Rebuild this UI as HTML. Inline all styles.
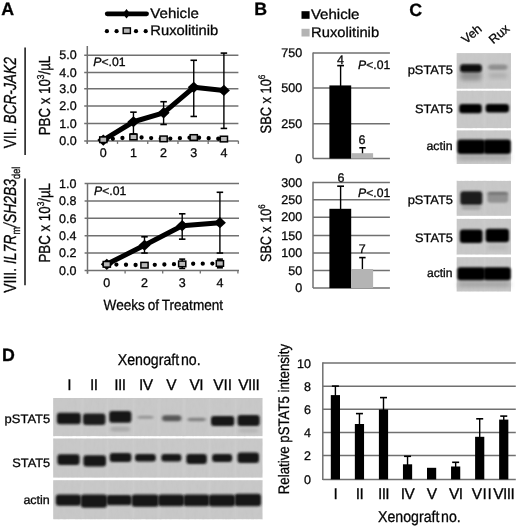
<!DOCTYPE html><html><head><meta charset="utf-8"><style>html,body{margin:0;padding:0;background:#fff;}svg{display:block;filter:blur(0.3px);} text{font-family:"Liberation Sans", sans-serif;text-rendering:geometricPrecision;stroke:#141414;stroke-width:0.32px;}</style></head><body>
<svg width="520" height="529" viewBox="0 0 520 529" font-family="Liberation Sans, sans-serif">
<defs><filter id="b1" x="-30%" y="-60%" width="160%" height="220%"><feGaussianBlur stdDeviation="1.6 1.3"/></filter><filter id="b2" x="-30%" y="-60%" width="160%" height="220%"><feGaussianBlur stdDeviation="2.2 2.0"/></filter><filter id="b3" x="-30%" y="-60%" width="160%" height="220%"><feGaussianBlur stdDeviation="1.3 1.0"/></filter><filter id="b4" x="-30%" y="-60%" width="160%" height="220%"><feGaussianBlur stdDeviation="0.9 0.7"/></filter><filter id="nz" x="0" y="0" width="100%" height="100%"><feTurbulence type="fractalNoise" baseFrequency="0.35 0.12" numOctaves="2" seed="7"/><feColorMatrix type="matrix" values="0 0 0 0 0.5  0 0 0 0 0.5  0 0 0 0 0.5  0 0 0 -2.2 1.35"/></filter></defs>
<rect width="520" height="529" fill="#fff"/>
<text x="1.3" y="15.2" font-size="17.8" font-weight="bold">A</text>
<text x="254.3" y="15.4" font-size="17.8" font-weight="bold">B</text>
<text x="409.3" y="15.5" font-size="17.8" font-weight="bold">C</text>
<text x="2" y="361.3" font-size="17.8" font-weight="bold">D</text>
<line x1="107.2" y1="13.8" x2="146.6" y2="13.8" stroke="#000" stroke-width="4.7" stroke-linecap="round"/>
<path d="M122.8 13.7L126.5 9L130.2 13.7L126.5 18.4Z" fill="#000"/>
<text x="150.3" y="18.4" font-size="14" textLength="48.6" lengthAdjust="spacingAndGlyphs">Vehicle</text>
<circle cx="106.9" cy="31.2" r="2.1" fill="#000"/>
<circle cx="116.6" cy="31.2" r="2.1" fill="#000"/>
<circle cx="136" cy="31.2" r="2.1" fill="#000"/>
<circle cx="145.7" cy="31.2" r="2.1" fill="#000"/>
<rect x="123.2" y="27.9" width="7.2" height="5.6" fill="#b9b9b9" stroke="#000" stroke-width="1.4"/>
<text x="150.3" y="35.3" font-size="14" textLength="68" lengthAdjust="spacingAndGlyphs">Ruxolitinib</text>
<line x1="84.2" y1="140.9" x2="238.4" y2="140.9" stroke="#707070" stroke-width="1.5" />
<line x1="84.2" y1="123.45" x2="238.4" y2="123.45" stroke="#707070" stroke-width="1.5" />
<line x1="84.2" y1="106.05" x2="238.4" y2="106.05" stroke="#707070" stroke-width="1.5" />
<line x1="84.2" y1="88.83" x2="238.4" y2="88.83" stroke="#707070" stroke-width="1.5" />
<line x1="84.2" y1="72.6" x2="238.4" y2="72.6" stroke="#707070" stroke-width="1.5" />
<line x1="84.2" y1="55.17" x2="238.4" y2="55.17" stroke="#707070" stroke-width="1.5" />
<line x1="87.3" y1="46" x2="87.3" y2="143.6" stroke="#707070" stroke-width="1.5" />
<line x1="87.3" y1="140.9" x2="87.3" y2="143.9" stroke="#707070" stroke-width="1.3" />
<line x1="117.52" y1="140.9" x2="117.52" y2="143.9" stroke="#707070" stroke-width="1.3" />
<line x1="147.74" y1="140.9" x2="147.74" y2="143.9" stroke="#707070" stroke-width="1.3" />
<line x1="177.96" y1="140.9" x2="177.96" y2="143.9" stroke="#707070" stroke-width="1.3" />
<line x1="208.18" y1="140.9" x2="208.18" y2="143.9" stroke="#707070" stroke-width="1.3" />
<line x1="238.4" y1="140.9" x2="238.4" y2="143.9" stroke="#707070" stroke-width="1.3" />
<text x="76.6" y="145.1" font-size="12.5" text-anchor="end">0.0</text>
<text x="76.6" y="127.65" font-size="12.5" text-anchor="end">1.0</text>
<text x="76.6" y="110.25" font-size="12.5" text-anchor="end">2.0</text>
<text x="76.6" y="93.03" font-size="12.5" text-anchor="end">3.0</text>
<text x="76.6" y="76.8" font-size="12.5" text-anchor="end">4.0</text>
<text x="76.6" y="59.37" font-size="12.5" text-anchor="end">5.0</text>
<text x="103.3" y="157.2" font-size="12.5" text-anchor="middle">0</text>
<text x="133.45" y="157.2" font-size="12.5" text-anchor="middle">1</text>
<text x="163.6" y="157.2" font-size="12.5" text-anchor="middle">2</text>
<text x="193.75" y="157.2" font-size="12.5" text-anchor="middle">3</text>
<text x="223.9" y="157.2" font-size="12.5" text-anchor="middle">4</text>
<text x="93.3" y="65.5" font-size="12.2"><tspan font-style="italic">P</tspan>&lt;.01</text>
<polyline points="103.3,139.72 133.45,136.98 163.6,138.87 193.75,137.5 223.9,139.04" fill="none" stroke="#000" stroke-width="4.3" stroke-linecap="round" stroke-dasharray="0 9.6"/>
<line x1="133.45" y1="112.16" x2="133.45" y2="133.9" stroke="#000" stroke-width="1.4" />
<line x1="130.2" y1="112.16" x2="136.7" y2="112.16" stroke="#000" stroke-width="1.6" />
<line x1="130.2" y1="133.9" x2="136.7" y2="133.9" stroke="#000" stroke-width="1.6" />
<line x1="163.6" y1="101.72" x2="163.6" y2="124.49" stroke="#000" stroke-width="1.4" />
<line x1="160.35" y1="101.72" x2="166.85" y2="101.72" stroke="#000" stroke-width="1.6" />
<line x1="160.35" y1="124.49" x2="166.85" y2="124.49" stroke="#000" stroke-width="1.6" />
<line x1="193.75" y1="60.29" x2="193.75" y2="116.44" stroke="#000" stroke-width="1.4" />
<line x1="190.5" y1="60.29" x2="197" y2="60.29" stroke="#000" stroke-width="1.6" />
<line x1="190.5" y1="116.44" x2="197" y2="116.44" stroke="#000" stroke-width="1.6" />
<line x1="223.9" y1="53.1" x2="223.9" y2="128.42" stroke="#000" stroke-width="1.4" />
<line x1="220.65" y1="53.1" x2="227.15" y2="53.1" stroke="#000" stroke-width="1.6" />
<line x1="220.65" y1="128.42" x2="227.15" y2="128.42" stroke="#000" stroke-width="1.6" />
<polyline points="103.3,140.07 133.45,121.75 163.6,112.84 193.75,87.34 223.9,90.42" fill="none" stroke="#000" stroke-width="5" stroke-linejoin="round"/>
<path d="M97.3 140.07L103.3 134.47L109.3 140.07L103.3 145.67Z" fill="#000"/>
<path d="M127.45 121.75L133.45 116.15L139.45 121.75L133.45 127.35Z" fill="#000"/>
<path d="M157.6 112.84L163.6 107.24L169.6 112.84L163.6 118.44Z" fill="#000"/>
<path d="M187.75 87.34L193.75 81.74L199.75 87.34L193.75 92.94Z" fill="#000"/>
<path d="M217.9 90.42L223.9 84.82L229.9 90.42L223.9 96.02Z" fill="#000"/>
<rect x="99.7" y="136.92" width="7.2" height="5.6" fill="#b9b9b9" stroke="#000" stroke-width="1.5"/>
<rect x="129.85" y="134.18" width="7.2" height="5.6" fill="#b9b9b9" stroke="#000" stroke-width="1.5"/>
<rect x="160" y="136.07" width="7.2" height="5.6" fill="#b9b9b9" stroke="#000" stroke-width="1.5"/>
<rect x="190.15" y="134.7" width="7.2" height="5.6" fill="#b9b9b9" stroke="#000" stroke-width="1.5"/>
<rect x="220.3" y="136.24" width="7.2" height="5.6" fill="#b9b9b9" stroke="#000" stroke-width="1.5"/>
<line x1="25.1" y1="47.4" x2="25.1" y2="155" stroke="#111" stroke-width="1.5" />
<text transform="translate(15.7 148.2) rotate(-90)" x="0" y="0" font-size="17.5" textLength="91" lengthAdjust="spacingAndGlyphs">VII. <tspan font-style="italic">BCR-JAK2</tspan></text>
<text transform="translate(50 135.3) rotate(-90)" x="0" y="0" font-size="16" textLength="79.5" lengthAdjust="spacingAndGlyphs">PBC x 10<tspan font-size="10" dy="-6">3</tspan><tspan dy="6">/µL</tspan></text>
<line x1="84.6" y1="270.4" x2="239" y2="270.4" stroke="#707070" stroke-width="1.5" />
<line x1="84.6" y1="253.04" x2="239" y2="253.04" stroke="#707070" stroke-width="1.5" />
<line x1="84.6" y1="235.68" x2="239" y2="235.68" stroke="#707070" stroke-width="1.5" />
<line x1="84.6" y1="218.32" x2="239" y2="218.32" stroke="#707070" stroke-width="1.5" />
<line x1="84.6" y1="200.96" x2="239" y2="200.96" stroke="#707070" stroke-width="1.5" />
<line x1="84.6" y1="183.6" x2="239" y2="183.6" stroke="#707070" stroke-width="1.5" />
<line x1="87.5" y1="183.6" x2="87.5" y2="273.6" stroke="#707070" stroke-width="1.5" />
<line x1="87.5" y1="270.4" x2="87.5" y2="273.6" stroke="#707070" stroke-width="1.3" />
<line x1="125.1" y1="270.4" x2="125.1" y2="273.6" stroke="#707070" stroke-width="1.3" />
<line x1="162.7" y1="270.4" x2="162.7" y2="273.6" stroke="#707070" stroke-width="1.3" />
<line x1="200.3" y1="270.4" x2="200.3" y2="273.6" stroke="#707070" stroke-width="1.3" />
<line x1="237.9" y1="270.4" x2="237.9" y2="273.6" stroke="#707070" stroke-width="1.3" />
<text x="76.5" y="274.7" font-size="12.5" text-anchor="end">0.0</text>
<text x="76.5" y="257.34" font-size="12.5" text-anchor="end">0.2</text>
<text x="76.5" y="239.98" font-size="12.5" text-anchor="end">0.4</text>
<text x="76.5" y="222.62" font-size="12.5" text-anchor="end">0.6</text>
<text x="76.5" y="205.26" font-size="12.5" text-anchor="end">0.8</text>
<text x="76.5" y="187.9" font-size="12.5" text-anchor="end">1.0</text>
<text x="106.8" y="287.2" font-size="12.5" text-anchor="middle">0</text>
<text x="144.5" y="287.2" font-size="12.5" text-anchor="middle">2</text>
<text x="182.2" y="287.2" font-size="12.5" text-anchor="middle">3</text>
<text x="219.9" y="287.2" font-size="12.5" text-anchor="middle">4</text>
<text x="94" y="194.8" font-size="12.2"><tspan font-style="italic">P</tspan>&lt;.01</text>
<text x="103.6" y="310.4" font-size="14.8" textLength="119.5" lengthAdjust="spacingAndGlyphs" word-spacing="-1">Weeks of Treatment</text>
<polyline points="106.8,264.32 144.5,265.19 182.2,263.89 219.9,263.46" fill="none" stroke="#000" stroke-width="4.3" stroke-linecap="round" stroke-dasharray="0 9.6"/>
<line x1="144.5" y1="236.81" x2="144.5" y2="253.04" stroke="#000" stroke-width="1.4" />
<line x1="141.25" y1="236.81" x2="147.75" y2="236.81" stroke="#000" stroke-width="1.6" />
<line x1="141.25" y1="253.04" x2="147.75" y2="253.04" stroke="#000" stroke-width="1.6" />
<line x1="182.2" y1="213.81" x2="182.2" y2="239.15" stroke="#000" stroke-width="1.4" />
<line x1="178.95" y1="213.81" x2="185.45" y2="213.81" stroke="#000" stroke-width="1.6" />
<line x1="178.95" y1="239.15" x2="185.45" y2="239.15" stroke="#000" stroke-width="1.6" />
<line x1="219.9" y1="192.28" x2="219.9" y2="253.04" stroke="#000" stroke-width="1.4" />
<line x1="216.65" y1="192.28" x2="223.15" y2="192.28" stroke="#000" stroke-width="1.6" />
<line x1="216.65" y1="253.04" x2="223.15" y2="253.04" stroke="#000" stroke-width="1.6" />
<line x1="182.2" y1="259.12" x2="182.2" y2="268.4" stroke="#000" stroke-width="1.4" />
<line x1="179.2" y1="259.12" x2="185.2" y2="259.12" stroke="#000" stroke-width="1.6" />
<line x1="179.2" y1="268.4" x2="185.2" y2="268.4" stroke="#000" stroke-width="1.6" />
<line x1="219.9" y1="259.12" x2="219.9" y2="267.8" stroke="#000" stroke-width="1.4" />
<line x1="216.9" y1="259.12" x2="222.9" y2="259.12" stroke="#000" stroke-width="1.6" />
<line x1="216.9" y1="267.8" x2="222.9" y2="267.8" stroke="#000" stroke-width="1.6" />
<polyline points="106.8,264.32 144.5,245.23 182.2,225.7 219.9,222.66" fill="none" stroke="#000" stroke-width="5" stroke-linejoin="round"/>
<path d="M100.8 264.32L106.8 258.72L112.8 264.32L106.8 269.92Z" fill="#000"/>
<path d="M138.5 245.23L144.5 239.63L150.5 245.23L144.5 250.83Z" fill="#000"/>
<path d="M176.2 225.7L182.2 220.1L188.2 225.7L182.2 231.3Z" fill="#000"/>
<path d="M213.9 222.66L219.9 217.06L225.9 222.66L219.9 228.26Z" fill="#000"/>
<rect x="103.2" y="261.52" width="7.2" height="5.6" fill="#b9b9b9" stroke="#000" stroke-width="1.5"/>
<rect x="140.9" y="262.39" width="7.2" height="5.6" fill="#b9b9b9" stroke="#000" stroke-width="1.5"/>
<rect x="178.6" y="261.09" width="7.2" height="5.6" fill="#b9b9b9" stroke="#000" stroke-width="1.5"/>
<rect x="216.3" y="260.66" width="7.2" height="5.6" fill="#b9b9b9" stroke="#000" stroke-width="1.5"/>
<line x1="25" y1="178.5" x2="25" y2="285.2" stroke="#111" stroke-width="1.5" />
<text transform="translate(15.6 292.7) rotate(-90)" x="0" y="0" font-size="17.5" textLength="126" lengthAdjust="spacingAndGlyphs">VIII. <tspan font-style="italic">IL7R</tspan><tspan font-size="11.5" dy="4">m</tspan><tspan dy="-4" font-style="italic">/SH2B3</tspan><tspan font-size="11.5" dy="4">del</tspan></text>
<text transform="translate(50 262.5) rotate(-90)" x="0" y="0" font-size="16" textLength="79.5" lengthAdjust="spacingAndGlyphs">PBC x 10<tspan font-size="10" dy="-6">3</tspan><tspan dy="6">/µL</tspan></text>
<rect x="301.5" y="11.2" width="8.1" height="7.6" fill="#000" />
<rect x="301.5" y="28.8" width="8.1" height="7.7" fill="#b4b4b4" />
<text x="310.9" y="19.2" font-size="14" textLength="48.6" lengthAdjust="spacingAndGlyphs">Vehicle</text>
<text x="311.1" y="36.6" font-size="14" textLength="68" lengthAdjust="spacingAndGlyphs">Ruxolitinib</text>
<line x1="313" y1="123.7" x2="389.9" y2="123.7" stroke="#707070" stroke-width="1.5" />
<line x1="313" y1="87.9" x2="389.9" y2="87.9" stroke="#707070" stroke-width="1.5" />
<line x1="313" y1="53" x2="389.9" y2="53" stroke="#707070" stroke-width="1.5" />
<line x1="313" y1="52.4" x2="313" y2="158.5" stroke="#707070" stroke-width="1.5" />
<line x1="313" y1="158.5" x2="389.9" y2="158.5" stroke="#707070" stroke-width="1.5" />
<text x="302.2" y="162.7" font-size="12.5" text-anchor="end">0</text>
<text x="302.2" y="127.9" font-size="12.5" text-anchor="end">250</text>
<text x="302.2" y="92.1" font-size="12.5" text-anchor="end">500</text>
<text x="302.2" y="57.2" font-size="12.5" text-anchor="end">750</text>
<line x1="340.6" y1="65.6" x2="340.6" y2="86" stroke="#000" stroke-width="1.4" />
<line x1="337.2" y1="65.6" x2="344" y2="65.6" stroke="#000" stroke-width="1.6" />
<rect x="329.4" y="85.42" width="21.8" height="73.08" fill="#000" />
<line x1="362.5" y1="147.8" x2="362.5" y2="154" stroke="#000" stroke-width="1.4" />
<line x1="359.3" y1="147.8" x2="365.7" y2="147.8" stroke="#000" stroke-width="1.6" />
<rect x="351.1" y="153.2" width="22" height="5.3" fill="#b4b4b4" />
<text x="340.6" y="64.3" font-size="12.5" text-anchor="middle">4</text>
<text x="362" y="144" font-size="12.5" text-anchor="middle">6</text>
<text x="358" y="69.3" font-size="12.2"><tspan font-style="italic">P</tspan>&lt;.01</text>
<text transform="translate(271.2 133.4) rotate(-90)" x="0" y="0" font-size="15" textLength="58.8" lengthAdjust="spacingAndGlyphs">SBC x 10<tspan font-size="9.5" dy="-6">6</tspan></text>
<line x1="313" y1="270.4" x2="389.9" y2="270.4" stroke="#707070" stroke-width="1.5" />
<line x1="313" y1="253.1" x2="389.9" y2="253.1" stroke="#707070" stroke-width="1.5" />
<line x1="313" y1="235.5" x2="389.9" y2="235.5" stroke="#707070" stroke-width="1.5" />
<line x1="313" y1="217.2" x2="389.9" y2="217.2" stroke="#707070" stroke-width="1.5" />
<line x1="313" y1="199.7" x2="389.9" y2="199.7" stroke="#707070" stroke-width="1.5" />
<line x1="313" y1="182.5" x2="389.9" y2="182.5" stroke="#707070" stroke-width="1.5" />
<line x1="313" y1="181.8" x2="313" y2="288.1" stroke="#707070" stroke-width="1.5" />
<line x1="313" y1="288.1" x2="389.9" y2="288.1" stroke="#707070" stroke-width="1.5" />
<text x="302.2" y="292.3" font-size="12.5" text-anchor="end">0</text>
<text x="302.2" y="274.6" font-size="12.5" text-anchor="end">50</text>
<text x="302.2" y="257.3" font-size="12.5" text-anchor="end">100</text>
<text x="302.2" y="239.7" font-size="12.5" text-anchor="end">150</text>
<text x="302.2" y="221.4" font-size="12.5" text-anchor="end">200</text>
<text x="302.2" y="203.9" font-size="12.5" text-anchor="end">250</text>
<text x="302.2" y="186.7" font-size="12.5" text-anchor="end">300</text>
<line x1="340.6" y1="186.2" x2="340.6" y2="210" stroke="#000" stroke-width="1.4" />
<line x1="337.2" y1="186.2" x2="344" y2="186.2" stroke="#000" stroke-width="1.6" />
<rect x="329.4" y="208.8" width="21.8" height="79.3" fill="#000" />
<line x1="362.4" y1="257.6" x2="362.4" y2="270" stroke="#000" stroke-width="1.4" />
<line x1="359.2" y1="257.6" x2="365.6" y2="257.6" stroke="#000" stroke-width="1.6" />
<rect x="351.1" y="269" width="22" height="19.1" fill="#b4b4b4" />
<text x="341" y="182.4" font-size="12.5" text-anchor="middle">6</text>
<text x="362.3" y="253.2" font-size="12.5" text-anchor="middle">7</text>
<text x="358" y="197.3" font-size="12.2"><tspan font-style="italic">P</tspan>&lt;.01</text>
<text transform="translate(271 262) rotate(-90)" x="0" y="0" font-size="15" textLength="57.6" lengthAdjust="spacingAndGlyphs">SBC x 10<tspan font-size="9.5" dy="-6">6</tspan></text>
<text transform="translate(466.0 44.3) rotate(-40)" font-size="12.6">Veh</text>
<text transform="translate(493.2 44.4) rotate(-40)" font-size="12.6">Rux</text>
<rect x="456.7" y="53.1" width="54.3" height="35.6" fill="#c8c8c8" />
<rect x="456.7" y="53.1" width="54.3" height="35.6" filter="url(#nz)" opacity="0.18"/>
<rect x="483" y="54.1" width="3" height="33.6" fill="#d6d6d6" filter="url(#b4)" opacity="0.3"/>
<rect x="456.7" y="90.8" width="54.3" height="37.3" fill="#c8c8c8" />
<rect x="456.7" y="90.8" width="54.3" height="37.3" filter="url(#nz)" opacity="0.18"/>
<rect x="483" y="91.8" width="3" height="35.3" fill="#d6d6d6" filter="url(#b4)" opacity="0.3"/>
<rect x="456.7" y="130.4" width="54.3" height="33.6" fill="#c8c8c8" />
<rect x="456.7" y="130.4" width="54.3" height="33.6" filter="url(#nz)" opacity="0.18"/>
<rect x="483" y="131.4" width="3" height="31.6" fill="#d6d6d6" filter="url(#b4)" opacity="0.3"/>
<rect x="456.7" y="180.9" width="54.3" height="34.9" fill="#c8c8c8" />
<rect x="456.7" y="180.9" width="54.3" height="34.9" filter="url(#nz)" opacity="0.18"/>
<rect x="483" y="181.9" width="3" height="32.9" fill="#d6d6d6" filter="url(#b4)" opacity="0.3"/>
<rect x="456.7" y="218.9" width="54.3" height="35.6" fill="#c8c8c8" />
<rect x="456.7" y="218.9" width="54.3" height="35.6" filter="url(#nz)" opacity="0.18"/>
<rect x="483" y="219.9" width="3" height="33.6" fill="#d6d6d6" filter="url(#b4)" opacity="0.3"/>
<rect x="456.7" y="257.2" width="54.3" height="34.3" fill="#c8c8c8" />
<rect x="456.7" y="257.2" width="54.3" height="34.3" filter="url(#nz)" opacity="0.18"/>
<rect x="483" y="258.2" width="3" height="32.3" fill="#d6d6d6" filter="url(#b4)" opacity="0.3"/>
<rect x="460.2" y="71" width="21.3" height="9.5" rx="3" fill="#7a7a7a" fill-opacity="0.7" filter="url(#b2)"/>
<rect x="460" y="64.2" width="21.8" height="8" rx="3" fill="#080808" fill-opacity="1" filter="url(#b3)"/>
<rect x="488.3" y="64.6" width="19.2" height="5.4" rx="3" fill="#888888" fill-opacity="0.9" filter="url(#b1)"/>
<rect x="488.5" y="73" width="19" height="5" rx="3" fill="#a0a0a0" fill-opacity="0.7" filter="url(#b2)"/>
<rect x="459.2" y="103.9" width="22.6" height="9.3" rx="3" fill="#050505" fill-opacity="1" filter="url(#b3)"/>
<rect x="485.6" y="103.9" width="23.4" height="8.5" rx="3" fill="#050505" fill-opacity="1" filter="url(#b3)"/>
<rect x="457.5" y="155" width="53" height="5" rx="3" fill="#8a8a8a" fill-opacity="0.6" filter="url(#b2)"/>
<rect x="457.3" y="139.4" width="27.7" height="14.5" rx="3" fill="#050505" fill-opacity="1" filter="url(#b3)"/>
<rect x="483.6" y="139.4" width="27.2" height="14.5" rx="3" fill="#050505" fill-opacity="1" filter="url(#b3)"/>
<rect x="460.3" y="191.3" width="22" height="13.8" rx="3" fill="#1e1e1e" fill-opacity="1" filter="url(#b3)"/>
<rect x="461.5" y="205" width="19.5" height="5" rx="3" fill="#888" fill-opacity="0.5" filter="url(#b1)"/>
<rect x="487.4" y="192" width="20.8" height="10.8" rx="3" fill="#8c8c8c" fill-opacity="0.9" filter="url(#b3)"/>
<rect x="487.4" y="192.2" width="20.8" height="2.4" rx="3" fill="#555" fill-opacity="0.6" filter="url(#b1)"/>
<rect x="459.8" y="229.5" width="22.7" height="13.5" rx="3" fill="#050505" fill-opacity="1" filter="url(#b3)"/>
<rect x="485.6" y="228.7" width="23.4" height="13.6" rx="3" fill="#050505" fill-opacity="1" filter="url(#b3)"/>
<rect x="487" y="245.5" width="21" height="3.5" rx="3" fill="#999" fill-opacity="0.5" filter="url(#b2)"/>
<rect x="458" y="281.5" width="52.5" height="5.5" rx="3" fill="#8a8a8a" fill-opacity="0.6" filter="url(#b2)"/>
<rect x="457.3" y="267.3" width="27.7" height="13" rx="3" fill="#050505" fill-opacity="1" filter="url(#b3)"/>
<rect x="483.6" y="267.3" width="27.2" height="13" rx="3" fill="#050505" fill-opacity="1" filter="url(#b3)"/>
<text x="407.7" y="73.8" font-size="12.3" textLength="45.2" lengthAdjust="spacingAndGlyphs">pSTAT5</text>
<text x="415" y="113.2" font-size="12.3" textLength="37.9" lengthAdjust="spacingAndGlyphs">STAT5</text>
<text x="426.5" y="150.2" font-size="12.3" textLength="26" lengthAdjust="spacingAndGlyphs">actin</text>
<text x="407.7" y="203.9" font-size="12.3" textLength="45.2" lengthAdjust="spacingAndGlyphs">pSTAT5</text>
<text x="415" y="241.8" font-size="12.3" textLength="37.9" lengthAdjust="spacingAndGlyphs">STAT5</text>
<text x="427" y="276.5" font-size="12.3" textLength="25.5" lengthAdjust="spacingAndGlyphs">actin</text>
<text x="117.8" y="365.3" font-size="15.8" textLength="82.8" lengthAdjust="spacingAndGlyphs" word-spacing="-2.5">Xenograft no.</text>
<text x="69" y="390.2" font-size="15.5" text-anchor="middle" letter-spacing="-0.6">I</text>
<text x="93.8" y="390.2" font-size="15.5" text-anchor="middle" letter-spacing="-0.6">II</text>
<text x="119.8" y="390.2" font-size="15.5" text-anchor="middle" letter-spacing="-0.6">III</text>
<text x="145.8" y="390.2" font-size="15.5" text-anchor="middle" letter-spacing="-0.6">IV</text>
<text x="171.2" y="390.2" font-size="15.5" text-anchor="middle" letter-spacing="-0.6">V</text>
<text x="196.3" y="390.2" font-size="15.5" text-anchor="middle" letter-spacing="-0.6">VI</text>
<text x="222.7" y="390.2" font-size="15.5" text-anchor="middle" letter-spacing="-0.1">VII</text>
<text x="248.7" y="390.2" font-size="15.5" text-anchor="middle" letter-spacing="-0.6">VIII</text>
<rect x="53.2" y="398" width="209.3" height="38.1" fill="#c8c8c8" />
<rect x="53.2" y="398" width="209.3" height="38.1" filter="url(#nz)" opacity="0.18"/>
<rect x="80.5" y="399" width="3" height="36.1" fill="#d6d6d6" filter="url(#b4)" opacity="0.3"/>
<rect x="106" y="399" width="3" height="36.1" fill="#d6d6d6" filter="url(#b4)" opacity="0.3"/>
<rect x="132" y="399" width="3" height="36.1" fill="#d6d6d6" filter="url(#b4)" opacity="0.3"/>
<rect x="157.5" y="399" width="3" height="36.1" fill="#d6d6d6" filter="url(#b4)" opacity="0.3"/>
<rect x="182.5" y="399" width="3" height="36.1" fill="#d6d6d6" filter="url(#b4)" opacity="0.3"/>
<rect x="208" y="399" width="3" height="36.1" fill="#d6d6d6" filter="url(#b4)" opacity="0.3"/>
<rect x="234" y="399" width="3" height="36.1" fill="#d6d6d6" filter="url(#b4)" opacity="0.3"/>
<rect x="53.2" y="438.5" width="209.3" height="39.1" fill="#c8c8c8" />
<rect x="53.2" y="438.5" width="209.3" height="39.1" filter="url(#nz)" opacity="0.18"/>
<rect x="80.5" y="439.5" width="3" height="37.1" fill="#d6d6d6" filter="url(#b4)" opacity="0.3"/>
<rect x="106" y="439.5" width="3" height="37.1" fill="#d6d6d6" filter="url(#b4)" opacity="0.3"/>
<rect x="132" y="439.5" width="3" height="37.1" fill="#d6d6d6" filter="url(#b4)" opacity="0.3"/>
<rect x="157.5" y="439.5" width="3" height="37.1" fill="#d6d6d6" filter="url(#b4)" opacity="0.3"/>
<rect x="182.5" y="439.5" width="3" height="37.1" fill="#d6d6d6" filter="url(#b4)" opacity="0.3"/>
<rect x="208" y="439.5" width="3" height="37.1" fill="#d6d6d6" filter="url(#b4)" opacity="0.3"/>
<rect x="234" y="439.5" width="3" height="37.1" fill="#d6d6d6" filter="url(#b4)" opacity="0.3"/>
<rect x="53.2" y="480.2" width="209.3" height="39" fill="#c8c8c8" />
<rect x="53.2" y="480.2" width="209.3" height="39" filter="url(#nz)" opacity="0.18"/>
<rect x="80.5" y="481.2" width="3" height="37" fill="#d6d6d6" filter="url(#b4)" opacity="0.3"/>
<rect x="106" y="481.2" width="3" height="37" fill="#d6d6d6" filter="url(#b4)" opacity="0.3"/>
<rect x="132" y="481.2" width="3" height="37" fill="#d6d6d6" filter="url(#b4)" opacity="0.3"/>
<rect x="157.5" y="481.2" width="3" height="37" fill="#d6d6d6" filter="url(#b4)" opacity="0.3"/>
<rect x="182.5" y="481.2" width="3" height="37" fill="#d6d6d6" filter="url(#b4)" opacity="0.3"/>
<rect x="208" y="481.2" width="3" height="37" fill="#d6d6d6" filter="url(#b4)" opacity="0.3"/>
<rect x="234" y="481.2" width="3" height="37" fill="#d6d6d6" filter="url(#b4)" opacity="0.3"/>
<rect x="56.9" y="412.7" width="23.9" height="11.5" rx="3" fill="#181818" fill-opacity="1" filter="url(#b3)"/>
<rect x="83" y="413.5" width="22.4" height="11.5" rx="3" fill="#1e1e1e" fill-opacity="1" filter="url(#b3)"/>
<rect x="109.2" y="411" width="22.2" height="11.8" rx="3" fill="#181818" fill-opacity="1" filter="url(#b3)"/>
<rect x="110.5" y="426.5" width="19.5" height="5" rx="3" fill="#999" fill-opacity="0.6" filter="url(#b1)"/>
<rect x="137.5" y="415.8" width="16" height="3" rx="3" fill="#8a8a8a" fill-opacity="0.8" filter="url(#b1)"/>
<rect x="162" y="415.2" width="19.4" height="6" rx="3" fill="#4a4a4a" fill-opacity="0.9" filter="url(#b1)"/>
<rect x="187.5" y="417.8" width="18.3" height="3.4" rx="3" fill="#7a7a7a" fill-opacity="0.9" filter="url(#b1)"/>
<rect x="211" y="416" width="23.3" height="10" rx="3" fill="#181818" fill-opacity="1" filter="url(#b3)"/>
<rect x="237.5" y="415" width="22.2" height="11" rx="3" fill="#181818" fill-opacity="1" filter="url(#b3)"/>
<rect x="239" y="428" width="19" height="5" rx="3" fill="#aaa" fill-opacity="0.5" filter="url(#b1)"/>
<rect x="57.4" y="454.3" width="22.2" height="10.6" rx="3" fill="#181818" fill-opacity="1" filter="url(#b3)"/>
<rect x="83.4" y="455.2" width="22.6" height="11.2" rx="3" fill="#181818" fill-opacity="1" filter="url(#b3)"/>
<rect x="109.7" y="453" width="21.7" height="8.9" rx="3" fill="#181818" fill-opacity="1" filter="url(#b3)"/>
<rect x="135" y="454" width="20.8" height="7.5" rx="3" fill="#181818" fill-opacity="1" filter="url(#b3)"/>
<rect x="161.3" y="454" width="20.1" height="7.5" rx="3" fill="#181818" fill-opacity="1" filter="url(#b3)"/>
<rect x="186.3" y="454" width="20.5" height="10" rx="3" fill="#181818" fill-opacity="1" filter="url(#b3)"/>
<rect x="212.1" y="454" width="20.1" height="7.9" rx="3" fill="#181818" fill-opacity="1" filter="url(#b3)"/>
<rect x="237.5" y="452.6" width="21.5" height="10.4" rx="3" fill="#181818" fill-opacity="1" filter="url(#b3)"/>
<rect x="55.8" y="494.6" width="25.2" height="11.2" rx="3" fill="#181818" fill-opacity="1" filter="url(#b3)"/>
<rect x="80.8" y="494.4" width="26.2" height="13.4" rx="3" fill="#181818" fill-opacity="1" filter="url(#b3)"/>
<rect x="106.4" y="495" width="25.2" height="10.2" rx="3" fill="#181818" fill-opacity="1" filter="url(#b3)"/>
<rect x="131.6" y="494.4" width="27" height="12.4" rx="3" fill="#181818" fill-opacity="1" filter="url(#b3)"/>
<rect x="158.2" y="494.4" width="25.8" height="11.8" rx="3" fill="#181818" fill-opacity="1" filter="url(#b3)"/>
<rect x="183.4" y="494.4" width="26" height="11.8" rx="3" fill="#181818" fill-opacity="1" filter="url(#b3)"/>
<rect x="208.8" y="494.4" width="26.2" height="12.2" rx="3" fill="#181818" fill-opacity="1" filter="url(#b3)"/>
<rect x="234.6" y="493.8" width="26.4" height="12.4" rx="3" fill="#181818" fill-opacity="1" filter="url(#b3)"/>
<text x="4.6" y="422.5" font-size="12.3" textLength="45.6" lengthAdjust="spacingAndGlyphs">pSTAT5</text>
<text x="12.3" y="466.5" font-size="12.3" textLength="37.9" lengthAdjust="spacingAndGlyphs">STAT5</text>
<text x="23.4" y="503.7" font-size="12.3" textLength="26.4" lengthAdjust="spacingAndGlyphs">actin</text>
<line x1="322.8" y1="479.4" x2="515.8" y2="479.4" stroke="#707070" stroke-width="1.5" />
<line x1="322.8" y1="455.5" x2="515.8" y2="455.5" stroke="#707070" stroke-width="1.5" />
<line x1="322.8" y1="432.4" x2="515.8" y2="432.4" stroke="#707070" stroke-width="1.5" />
<line x1="322.8" y1="409.3" x2="515.8" y2="409.3" stroke="#707070" stroke-width="1.5" />
<line x1="322.8" y1="386.15" x2="515.8" y2="386.15" stroke="#707070" stroke-width="1.5" />
<line x1="322.8" y1="362.9" x2="515.8" y2="362.9" stroke="#707070" stroke-width="1.5" />
<line x1="322.8" y1="362.2" x2="322.8" y2="480.1" stroke="#707070" stroke-width="1.5" />
<text x="311" y="484.2" font-size="12.5" text-anchor="end">0</text>
<text x="311" y="460.3" font-size="12.5" text-anchor="end">2</text>
<text x="311" y="437.2" font-size="12.5" text-anchor="end">4</text>
<text x="311" y="414.1" font-size="12.5" text-anchor="end">6</text>
<text x="311" y="390.95" font-size="12.5" text-anchor="end">8</text>
<text x="311" y="367.7" font-size="12.5" text-anchor="end">10</text>
<line x1="335.4" y1="386.1" x2="335.4" y2="396.1" stroke="#000" stroke-width="1.4" />
<line x1="331.9" y1="386.1" x2="338.9" y2="386.1" stroke="#000" stroke-width="1.6" />
<rect x="330.8" y="395.1" width="9.2" height="84.3" fill="#000" />
<line x1="359.45" y1="413.6" x2="359.45" y2="425" stroke="#000" stroke-width="1.4" />
<line x1="355.95" y1="413.6" x2="362.95" y2="413.6" stroke="#000" stroke-width="1.6" />
<rect x="354.85" y="424" width="9.2" height="55.4" fill="#000" />
<line x1="383.5" y1="397.6" x2="383.5" y2="410.5" stroke="#000" stroke-width="1.4" />
<line x1="380" y1="397.6" x2="387" y2="397.6" stroke="#000" stroke-width="1.6" />
<rect x="378.9" y="409.5" width="9.2" height="69.9" fill="#000" />
<line x1="407.55" y1="456.3" x2="407.55" y2="465.3" stroke="#000" stroke-width="1.4" />
<line x1="404.05" y1="456.3" x2="411.05" y2="456.3" stroke="#000" stroke-width="1.6" />
<rect x="402.95" y="464.3" width="9.2" height="15.1" fill="#000" />
<rect x="427" y="467.8" width="9.2" height="11.6" fill="#000" />
<line x1="455.65" y1="462.3" x2="455.65" y2="467.5" stroke="#000" stroke-width="1.4" />
<line x1="452.15" y1="462.3" x2="459.15" y2="462.3" stroke="#000" stroke-width="1.6" />
<rect x="451.05" y="466.5" width="9.2" height="12.9" fill="#000" />
<line x1="479.7" y1="418.8" x2="479.7" y2="437.8" stroke="#000" stroke-width="1.4" />
<line x1="476.2" y1="418.8" x2="483.2" y2="418.8" stroke="#000" stroke-width="1.6" />
<rect x="475.1" y="436.8" width="9.2" height="42.6" fill="#000" />
<line x1="503.75" y1="416.1" x2="503.75" y2="420.6" stroke="#000" stroke-width="1.4" />
<line x1="500.25" y1="416.1" x2="507.25" y2="416.1" stroke="#000" stroke-width="1.6" />
<rect x="499.15" y="419.6" width="9.2" height="59.8" fill="#000" />
<text x="335.4" y="499.4" font-size="15.5" text-anchor="middle" letter-spacing="-0.6">I</text>
<text x="359.45" y="499.4" font-size="15.5" text-anchor="middle" letter-spacing="-0.6">II</text>
<text x="383.5" y="499.4" font-size="15.5" text-anchor="middle" letter-spacing="-0.6">III</text>
<text x="407.55" y="499.4" font-size="15.5" text-anchor="middle" letter-spacing="-0.6">IV</text>
<text x="431.6" y="499.4" font-size="15.5" text-anchor="middle" letter-spacing="-0.6">V</text>
<text x="455.65" y="499.4" font-size="15.5" text-anchor="middle" letter-spacing="-0.6">VI</text>
<text x="482" y="499.4" font-size="15.5" text-anchor="middle" letter-spacing="0.5">VII</text>
<text x="503.75" y="499.4" font-size="15.5" text-anchor="middle" letter-spacing="-0.6">VIII</text>
<text x="378" y="522" font-size="15.8" textLength="82.8" lengthAdjust="spacingAndGlyphs" word-spacing="-2.5">Xenograft no.</text>
<text transform="translate(288.8 494.2) rotate(-90)" x="0" y="0" font-size="15.2" textLength="150.3" lengthAdjust="spacingAndGlyphs">Relative pSTAT5 intensity</text>
</svg></body></html>
